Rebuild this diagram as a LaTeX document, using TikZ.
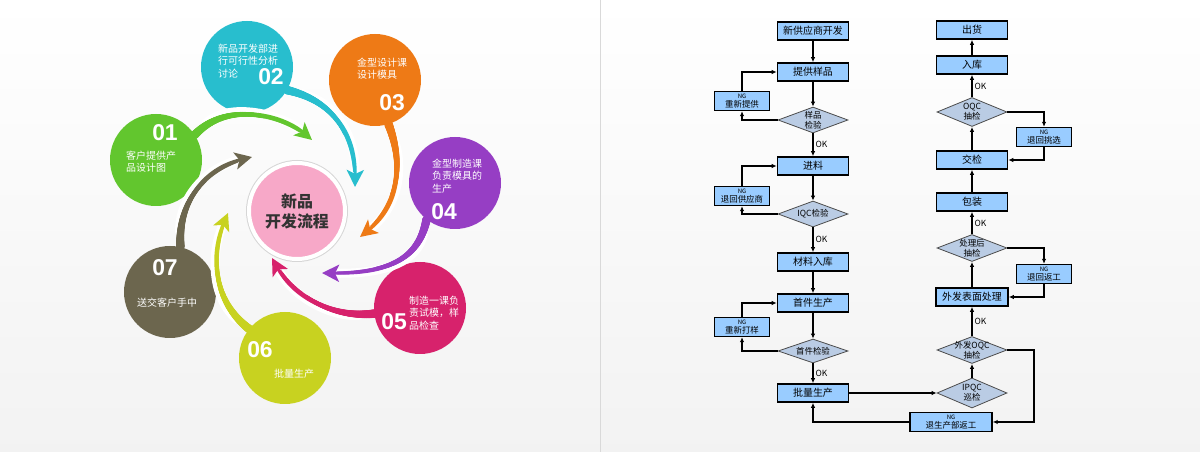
\documentclass[tikz,border=0pt]{standalone}
\usepackage{fontspec}
\setmainfont{Noto Sans CJK SC}
\newfontfamily\numfont{Liberation Sans}
\usetikzlibrary{arrows.meta,shapes.geometric,decorations.markings}

\definecolor{leafgreen}{RGB}{98,198,46}
\definecolor{leafcyan}{RGB}{40,190,206}
\definecolor{leaforange}{RGB}{238,122,22}
\definecolor{leafpurple}{RGB}{150,62,196}
\definecolor{leafrose}{RGB}{215,34,108}
\definecolor{leaflime}{RGB}{200,210,32}
\definecolor{leafolive}{RGB}{108,102,78}
\definecolor{corepink}{RGB}{247,168,200}
\definecolor{boxblue}{RGB}{153,204,255}
\definecolor{diablue}{RGB}{186,204,228}

\tikzset{
  petal/.style={circle,fill=#1,minimum size=92bp,inner sep=0pt},
  halo/.style={draw=white,line width=9bp,shorten <=14bp,shorten >=14bp},
  tail/.style={draw=#1,line width=3bp,-{Stealth[length=17bp,width=17bp,inset=4bp]},
    postaction={decorate,decoration={markings,
      mark=between positions 0 and 0.88 step 0.6bp with {
        \pgfmathsetmacro\tw{1.5+2.8*(1-\pgfkeysvalueof{/pgf/decoration/mark info/distance from start}/\pgfdecoratedpathlength)^2}
        \fill[#1] (0,0) circle (\tw pt);}}}},
  num/.style={text=white,font=\numfont\bfseries\fontsize{23}{23}\selectfont,inner sep=0pt},
  ptext/.style={text=white,align=left,anchor=west,inner sep=0pt,font=\fontsize{10}{12.3}\selectfont},
  box/.style={draw,line width=1.6bp,fill=boxblue,minimum width=71bp,minimum height=18bp,inner sep=1bp,font=\fontsize{10}{11}\selectfont},
  ngbox/.style={box,minimum width=55bp,minimum height=19bp,line width=1.4bp,align=center,font=\fontsize{8.5}{8.5}\selectfont},
  check/.style={diamond,draw=black!70,line width=0.8bp,fill=diablue,minimum width=70bp,minimum height=27bp,inner sep=0pt},
  dtext/.style={align=center,inner sep=0pt,font=\fontsize{8.5}{10}\selectfont},
  flow/.style={-{Latex[length=5bp,width=4.5bp]},line width=1.4bp},
  ok/.style={right,font=\fontsize{8.5}{8.5}\selectfont,inner sep=2bp},
}

\newcommand{\ngtag}{{\fontsize{6}{6}\selectfont NG}}

\begin{document}
\begin{tikzpicture}[x=1bp,y=-1bp]
    \useasboundingbox (0,0) rectangle (1200,452);
    \shade[top color=white,bottom color=black!5] (0,0) rectangle (1200,452);
    \draw[black!15,line width=1bp] (600,0) -- (600,452);

    % petals
    \node (p1) at (156,160) [petal=leafgreen] {};
    \node (p2) at (247,67) [petal=leafcyan] {};
    \node (p3) at (375,80) [petal=leaforange] {};
    \node (p4) at (455,183) [petal=leafpurple] {};
    \node (p5) at (420,308) [petal=leafrose] {};
    \node (p6) at (285,358) [petal=leaflime] {};
    \node (p7) at (170,292) [petal=leafolive] {};

    \coordinate (a1) at (312,140);
    \coordinate (a2) at (355,187);
    \coordinate (a3) at (360,237);
    \coordinate (a4) at (322,273);
    \coordinate (a5) at (272,258);
    \coordinate (a6) at (228,213);
    \coordinate (a7) at (252,157);

    \draw [halo] (p1.33) .. controls (228,100) and (283,115) .. (a1);
    \draw [tail=leafgreen] (p1.33) .. controls (228,100) and (283,115) .. (a1);
    \draw [halo] (p2.-30) .. controls (330,100) and (356,130) .. (a2);
    \draw [tail=leafcyan] (p2.-30) .. controls (330,100) and (356,130) .. (a2);
    \draw [halo] (p3.-73) .. controls (404,165) and (400,205) .. (a3);
    \draw [tail=leaforange] (p3.-73) .. controls (404,165) and (400,205) .. (a3);
    \draw [halo] (p4.-128) .. controls (418,262) and (385,274) .. (a4);
    \draw [tail=leafpurple] (p4.-128) .. controls (418,262) and (385,274) .. (a4);
    \draw [halo] (p5.187) .. controls (335,318) and (295,300) .. (a5);
    \draw [tail=leafrose] (p5.187) .. controls (335,318) and (295,300) .. (a5);
    \draw [halo] (p6.141) .. controls (212,300) and (210,255) .. (a6);
    \draw [tail=leaflime] (p6.141) .. controls (212,300) and (210,255) .. (a6);
    \draw [halo] (p7.77) .. controls (178,200) and (205,168) .. (a7);
    \draw [tail=leafolive] (p7.77) .. controls (178,200) and (205,168) .. (a7);

    \node (n1) at (165,133) [num] {01};
    \node (n2) at (271,77) [num] {02};
    \node (n3) at (392,103) [num] {03};
    \node (n4) at (444,212) [num] {04};
    \node (n5) at (394,322) [num] {05};
    \node (n6) at (260,350) [num] {06};
    \node (n7) at (165,268) [num] {07};
    \node (t1) at (126,162) [ptext] {客户提供产\\品设计图};
    \node (t2) at (218,61) [ptext] {新品开发部进\\行可行性分析\\讨论};
    \node (t3) at (357,69) [ptext] {金型设计课\\设计模具};
    \node (t4) at (432,176) [ptext] {金型制造课\\负责模具的\\生产};
    \node (t5) at (409,313) [ptext] {制造一课负\\责试模，样\\品检查};
    \node (t6) at (274,374) [ptext] {批量生产};
    \node (t7) at (137,303) [ptext] {送交客户手中};

    \fill[black!16] (297,211) circle (51bp);
    \node (core) at (297,211) [circle,fill=corepink,draw=white,line width=4bp,minimum size=96bp,align=center,text=black!80,font=\bfseries\fontsize{16}{20}\selectfont] {新品\\开发流程};

    % flow chart, left column
    \node (sup) at (813,31) [box] {新供应商开发};
    \node (sample) at (813,72) [box] {提供样品};
    \node (chksample) at (813,120) [check,minimum height=26bp,label={[dtext]center:样品\\检验}] {};
    \node (ngsample) at (742,101) [ngbox] {\ngtag\\重新提供};
    \node (feed) at (813,166) [box] {进料};
    \node (iqc) at (813,214) [check,minimum height=26bp,label={[dtext]center:IQC检验}] {};
    \node (ngfeed) at (742,196) [ngbox] {\ngtag\\退回供应商};
    \node (store) at (813,262) [box] {材料入库};
    \node (first) at (813,303) [box] {首件生产};
    \node (chkfirst) at (813,351) [check,minimum height=24bp,label={[dtext]center:首件检验}] {};
    \node (ngfirst) at (742,327) [ngbox] {\ngtag\\重新打样};
    \node (mass) at (813,393) [box] {批量生产};

    % flow chart, right column
    \node (ipqc) at (972,393) [check,minimum height=30bp,label={[dtext]center:IPQC\\巡检}] {};
    \node (ngmass) at (951,422) [ngbox,minimum width=82bp] {\ngtag\\退生产部返工};
    \node (oqcout) at (972,350) [check,label={[dtext]center:外发OQC\\抽检}] {};
    \node (surface) at (972,297) [box,minimum width=72bp] {外发表面处理};
    \node (chksurf) at (972,248) [check,label={[dtext]center:处理后\\抽检}] {};
    \node (ngsurf) at (1044,274) [ngbox] {\ngtag\\退回返工};
    \node (pack) at (972,202) [box] {包装};
    \node (hand) at (972,160) [box] {交检};
    \node (oqc) at (972,112) [check,minimum height=29bp,label={[dtext]center:OQC\\抽检}] {};
    \node (ngoqc) at (1044,137) [ngbox] {\ngtag\\退回挑选};
    \node (stock) at (972,65) [box] {入库};
    \node (ship) at (972,30) [box] {出货};
    \coordinate (turn) at (1034,422);

    \draw [flow] (sup) to (sample);
    \draw [flow] (sample) to (chksample);
    \draw [flow] (chksample.west) -| (ngsample.south);
    \draw [flow] (ngsample.north) |- (sample.west);
    \draw [flow] (chksample) to node[ok] {OK} (feed);
    \draw [flow] (feed) to (iqc);
    \draw [flow] (iqc.west) -| (ngfeed.south);
    \draw [flow] (ngfeed.north) |- (feed.west);
    \draw [flow] (iqc) to node[ok] {OK} (store);
    \draw [flow] (store) to (first);
    \draw [flow] (first) to (chkfirst);
    \draw [flow] (chkfirst.west) -| (ngfirst.south);
    \draw [flow] (ngfirst.north) |- (first.west);
    \draw [flow] (chkfirst) to node[ok] {OK} (mass);
    \draw [flow] (mass) to (ipqc);
    \draw [flow] (ipqc) to (oqcout);
    \draw [flow] (oqcout.east) -| (turn) to (ngmass.east);
    \draw [flow] (ngmass.west) -| (mass.south);
    \draw [flow] (oqcout) to node[ok] {OK} (surface);
    \draw [flow] (surface) to (chksurf);
    \draw [flow] (chksurf.east) -| (ngsurf.north);
    \draw [flow] (ngsurf.south) |- (surface.east);
    \draw [flow] (chksurf) to node[ok] {OK} (pack);
    \draw [flow] (pack) to (hand);
    \draw [flow] (hand) to (oqc);
    \draw [flow] (oqc.east) -| (ngoqc.north);
    \draw [flow] (ngoqc.south) |- (hand.east);
    \draw [flow] (oqc) to node[ok] {OK} (stock);
    \draw [flow] (stock) to (ship);
\end{tikzpicture}
\end{document}
